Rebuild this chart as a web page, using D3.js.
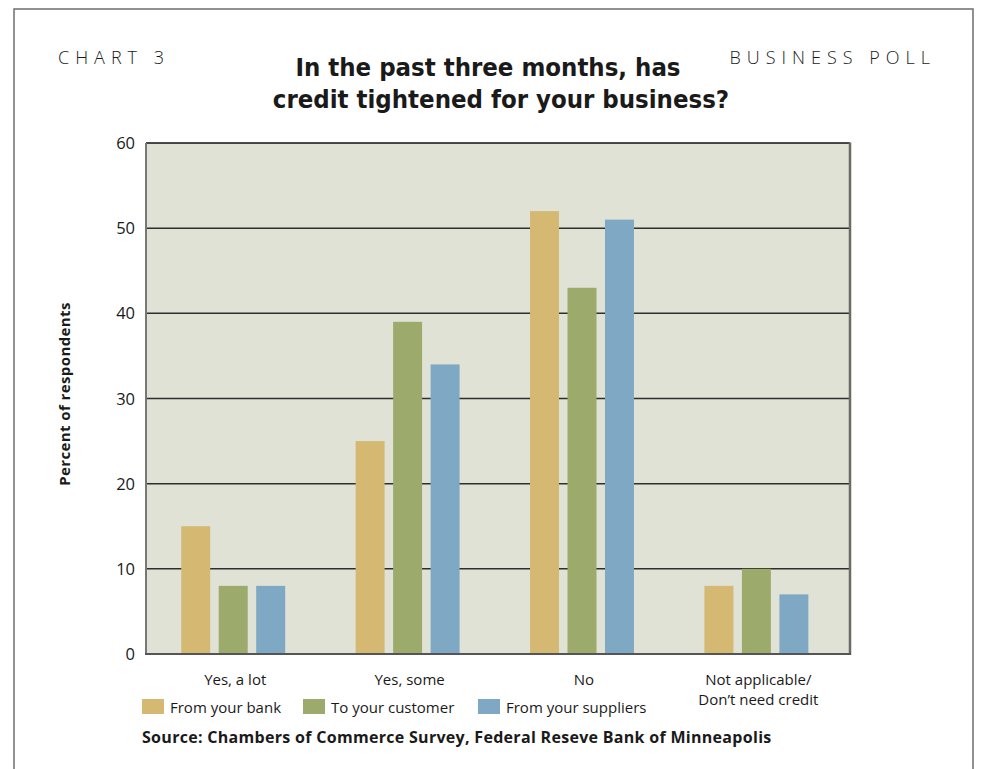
<!DOCTYPE html>
<html>
<head>
<meta charset="utf-8">
<script src="https://cdn.jsdelivr.net/npm/d3@7"></script>
<style>
body { margin:0; background:#fff; }
svg text { font-family: "Open Sans", sans-serif; fill:#1a1a1a; }
.title { font-family: "DejaVu Sans", sans-serif; font-weight:bold; font-stretch:condensed; font-size:25.5px; }
.corner { font-size:18px; letter-spacing:6px; font-weight:300; }
.tick { font-size:16.5px; }
.cat { font-size:15px; }
.legend { font-size:15px; }
.ylab { font-size:15px; font-weight:bold; letter-spacing:0.4px; }
.source { font-size:16px; font-weight:bold; letter-spacing:0.3px; }
</style>
</head>
<body>
<svg width="985" height="769"></svg>
<script>
const categories = ["Yes, a lot","Yes, some","No","Not applicable/\nDon\u2019t need credit"]
const series = ["From your bank","To your customer","From your suppliers"]
const bankValues = [15,25,52,8]
const customerValues = [8,39,43,10]
const supplierValues = [8,34,51,7]
const yTicks = [0,10,20,30,40,50,60]

const colors = ["#d5b872","#9caa6c","#7ea8c4"]
const values = [bankValues,customerValues,supplierValues]

const svg = d3.select("svg")

// outer frame
svg.append("path")
    .attr("d","M14,769 L14,9 L973,9 L973,769")
    .attr("fill","none")
    .attr("stroke","#6e6e6e")
    .attr("stroke-width",1.5)

const y = d3.scaleLinear()
    .domain([0,60])
    .range([654,143])

const x = d3.scaleBand()
    .domain(categories)
    .range([146,843.6])
    .paddingInner(0.404)
    .paddingOuter(0.202)

const xSub = d3.scaleBand()
    .domain(series)
    .range([0,x.bandwidth()])
    .paddingInner(0.227)

// plot background
svg.append("rect")
    .attr("x",146)
    .attr("y",y(60))
    .attr("width",850-146)
    .attr("height",y(0)-y(60))
    .attr("fill","#dfe2d4")

// gridlines
svg.selectAll("line.grid")
    .data(yTicks.filter(d=>d>0))
    .enter()
    .append("line")
    .attr("class","grid")
    .attr("x1",146)
    .attr("x2",850)
    .attr("y1",d=>y(d))
    .attr("y2",d=>y(d))
    .attr("stroke",d=> d===60 ? "#111" : "#2e2e2e")
    .attr("stroke-width",1.5)

// bars
const groups = svg.selectAll("g.group")
    .data(categories)
    .enter()
    .append("g")
    .attr("class","group")
    .attr("transform",d=>`translate(${x(d)},0)`)

groups.selectAll("rect")
    .data((d,i)=>series.map((s,j)=>({s:s, v:values[j][i], c:colors[j]})))
    .enter()
    .append("rect")
    .attr("x",d=>xSub(d.s))
    .attr("y",d=>y(d.v))
    .attr("width",xSub.bandwidth())
    .attr("height",d=>y(0)-y(d.v))
    .attr("fill",d=>d.c)

// axis lines
svg.append("line")
    .attr("x1",146).attr("x2",146)
    .attr("y1",y(60)).attr("y2",y(0)+1)
    .attr("stroke","#777").attr("stroke-width",2)
svg.append("line")
    .attr("x1",850).attr("x2",850)
    .attr("y1",y(60)-0.5).attr("y2",y(0)+1)
    .attr("stroke","#6a6a6a").attr("stroke-width",2.5)
svg.append("line")
    .attr("x1",145).attr("x2",851)
    .attr("y1",y(0)).attr("y2",y(0))
    .attr("stroke","#555").attr("stroke-width",2)

// y tick labels
svg.selectAll("text.tick")
    .data(yTicks)
    .enter()
    .append("text")
    .attr("class","tick")
    .attr("x",135)
    .attr("y",d=>y(d)+6)
    .attr("text-anchor","end")
    .text(d=>d)

svg.append("text")
    .attr("class","ylab")
    .attr("transform","translate(70,394) rotate(-90)")
    .attr("text-anchor","middle")
    .text("Percent of respondents")

// category labels
const catLabels = svg.selectAll("text.cat")
    .data(categories)
    .enter()
    .append("text")
    .attr("class","cat")
    .attr("text-anchor","middle")
    .attr("x",d=>x(d)+x.bandwidth()/2+2)
    .attr("y",685)

catLabels.selectAll("tspan")
    .data(d=>d.split("\n"))
    .enter()
    .append("tspan")
    .attr("x",function(){return this.parentNode.getAttribute("x")})
    .attr("dy",(d,i)=>i===0 ? 0 : 20)
    .text(d=>d)

// legend
const legendX = [142,303,478]
const legend = svg.selectAll("g.legend")
    .data(series)
    .enter()
    .append("g")
    .attr("class","legend")
    .attr("transform",(d,i)=>`translate(${legendX[i]},699)`)

legend.append("rect")
    .attr("width",22)
    .attr("height",15)
    .attr("fill",(d,i)=>colors[i])

legend.append("text")
    .attr("class","legend")
    .attr("x",28)
    .attr("y",14)
    .text(d=>d)

// titles
svg.append("text")
    .attr("class","corner")
    .attr("x",58)
    .attr("y",64)
    .text("CHART 3")

svg.append("text")
    .attr("class","corner")
    .attr("x",936)
    .attr("y",64)
    .attr("text-anchor","end")
    .text("BUSINESS POLL")

svg.append("text")
    .attr("class","title")
    .attr("x",488)
    .attr("y",76)
    .attr("text-anchor","middle")
    .text("In the past three months, has")

svg.append("text")
    .attr("class","title")
    .attr("x",501)
    .attr("y",108)
    .attr("text-anchor","middle")
    .text("credit tightened for your business?")

svg.append("text")
    .attr("class","source")
    .attr("x",142)
    .attr("y",743)
    .text("Source: Chambers of Commerce Survey, Federal Reseve Bank of Minneapolis")
</script>
</body>
</html>
